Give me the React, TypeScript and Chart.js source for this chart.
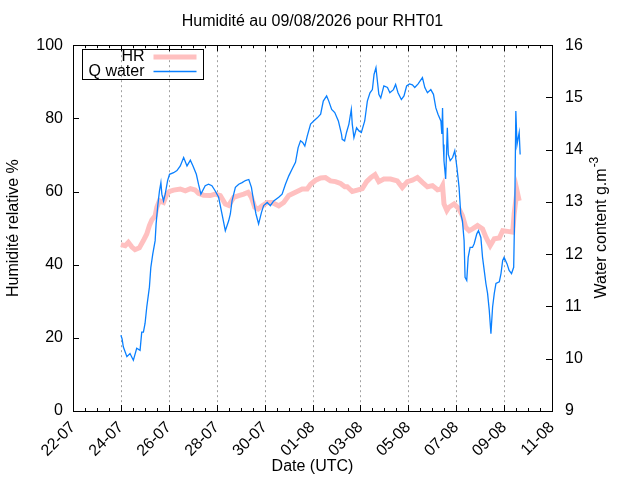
import { useEffect, useRef } from "react";
import { Chart, registerables } from "chart.js";
Chart.register(...registerables);

// x values are days counted from 22-07 00:00 UTC
const xTickLabels = ["22-07", "24-07", "26-07", "28-07", "30-07", "01-08", "03-08", "05-08", "07-08", "09-08", "11-08"];

const hrDays = [
  2.0, 2.18, 2.31, 2.46, 2.59, 2.77, 2.94, 3.08, 3.19, 3.29, 3.43, 3.5, 3.61, 3.78, 3.92, 4.03, 4.2, 4.48, 4.69, 4.9,
  5.1, 5.24, 5.45, 5.73, 5.94, 6.15, 6.36, 6.5, 6.71, 6.92, 7.13, 7.31, 7.45, 7.59, 7.73, 7.9, 8.11, 8.31, 8.59, 8.8,
  9.01, 9.29, 9.57, 9.78, 9.92, 10.13, 10.34, 10.54, 10.75, 10.96, 11.17, 11.35, 11.45, 11.66, 11.87, 12.08, 12.26,
  12.43, 12.61, 12.77, 12.98, 13.26, 13.54, 13.75, 13.96, 14.17, 14.38, 14.59, 14.8, 15.01, 15.22, 15.36, 15.43,
  15.49, 15.61, 15.7, 15.91, 16.12, 16.26, 16.4, 16.54, 16.68, 16.89, 17.1, 17.24, 17.42, 17.59, 17.8, 17.94, 18.15,
  18.36, 18.42, 18.54, 18.63,
];
const hrValues = [
  45.5, 45.2, 46.1, 44.8, 44.1, 44.6, 46.6, 48.4, 50.7, 52.2, 53.4, 55.7, 57.5, 57.0, 59.3, 60.0, 60.4, 60.7, 60.2, 60.8,
  60.4, 59.5, 59.0, 58.9, 59.3, 58.9, 56.6, 56.2, 58.4, 58.9, 59.3, 59.8, 58.4, 55.7, 55.2, 56.1, 57.0, 57.0, 56.1, 57.0,
  58.9, 59.8, 60.7, 60.7, 62.0, 63.1, 63.7, 63.8, 62.9, 62.7, 62.2, 61.3, 61.3, 60.0, 60.4, 60.8, 62.7,
  63.8, 64.6, 62.7, 63.4, 63.4, 62.9, 61.1, 62.7, 63.1, 63.8, 62.5, 61.3, 61.6, 60.5, 60.7, 61.6,
  56.6, 54.8, 55.7, 56.6, 55.2, 53.4, 50.2, 49.3, 49.8, 50.7, 49.8, 47.5, 45.2, 47.1, 47.3, 49.3, 49.1,
  48.9, 53.9, 60.2, 57.5,
];

const qDays = [
  2.0, 2.05, 2.1, 2.25, 2.38, 2.52, 2.66, 2.8, 2.87, 2.94, 3.01, 3.08, 3.19, 3.25, 3.33, 3.43, 3.47, 3.54, 3.61, 3.67,
  3.71, 3.78, 3.85, 3.95, 4.03, 4.2, 4.34, 4.48, 4.62, 4.76, 4.9, 5.01, 5.15, 5.24, 5.34, 5.52, 5.66, 5.8, 5.94, 6.08,
  6.22, 6.36, 6.5, 6.57, 6.64, 6.78, 6.92, 7.06, 7.2, 7.34, 7.45, 7.54, 7.64, 7.75, 7.87, 7.96, 8.11, 8.24, 8.38, 8.59,
  8.73, 8.87, 9.01, 9.15, 9.29, 9.4, 9.5, 9.59, 9.68, 9.78, 9.92, 10.05, 10.2, 10.34, 10.45, 10.59, 10.68, 10.8, 10.93,
  11.08, 11.21, 11.24, 11.34, 11.42, 11.52, 11.62, 11.66, 11.73, 11.84, 11.94, 12.04, 12.18, 12.29, 12.4, 12.5, 12.57,
  12.65, 12.71, 12.77, 12.85, 12.98, 13.13, 13.23, 13.38, 13.47, 13.57, 13.71, 13.82, 13.93, 14.05, 14.17, 14.27, 14.41,
  14.59, 14.69, 14.8, 14.94, 15.05, 15.15, 15.24, 15.36, 15.4, 15.43, 15.46, 15.49, 15.56, 15.63, 15.67, 15.75, 15.85,
  15.94, 16.03, 16.12, 16.19, 16.26, 16.33, 16.37, 16.44, 16.5, 16.58, 16.68, 16.75, 16.86, 16.93, 17.03, 17.1, 17.17,
  17.24, 17.31, 17.38, 17.45, 17.52, 17.59, 17.66, 17.8, 17.87, 17.94, 18.0, 18.12, 18.21, 18.31, 18.4, 18.45, 18.49,
  18.54, 18.59, 18.63, 18.67,
];
const qValues = [
  10.45, 10.38, 10.23, 10.04, 10.1, 9.97, 10.2, 10.16, 10.51, 10.51, 10.68, 10.99, 11.37, 11.75, 12.0, 12.26, 12.58,
  12.93, 13.21, 13.37, 13.15, 13.02, 13.15, 13.41, 13.53, 13.56, 13.6, 13.69, 13.85, 13.69, 13.8, 13.69, 13.53, 13.34,
  13.15, 13.31, 13.34, 13.31, 13.21, 13.09, 12.77, 12.45, 12.64, 12.77, 13.02, 13.28, 13.34, 13.37, 13.41, 13.43, 13.28,
  13.02, 12.77, 12.58, 12.8, 12.93, 12.99, 12.93, 13.02, 13.09, 13.15, 13.34, 13.5, 13.63, 13.76, 14.04, 14.17, 14.14,
  14.07, 14.26, 14.49, 14.55, 14.61, 14.68, 14.93, 15.03, 14.93, 14.77, 14.71, 14.55, 14.3, 14.2, 14.17, 14.33, 14.49,
  14.77, 14.49, 14.23, 14.42, 14.36, 14.33, 14.55, 14.93, 15.09, 15.15, 15.44, 15.57, 15.31, 15.06, 14.99, 15.22, 15.19,
  15.09, 15.15, 15.25, 15.09, 14.96, 15.03, 15.22, 15.26, 15.24, 15.19, 15.26, 15.38, 15.19, 15.09, 15.15, 15.06, 14.8,
  14.68, 14.55, 14.3, 14.8, 14.1, 13.79, 13.44, 14.42, 13.91, 13.79, 13.85, 13.98, 13.66, 13.28, 12.77, 12.64, 12.26,
  11.56, 11.5, 11.94, 12.13, 12.13, 12.2, 12.39, 12.45, 12.32, 11.94, 11.69, 11.44, 11.25, 10.93, 10.48, 10.99, 11.25,
  11.44, 11.47, 11.63, 11.88, 11.94, 11.82, 11.69, 11.63, 11.75, 13.02, 14.74, 14.1, 14.23, 14.33, 13.91,
];

const FONT = "'Liberation Sans', Arial, sans-serif";

// gnuplot-like frame: dotted grid, inward ticks, border, key box, right axis title
const framePlugin = {
  id: "frame",
  beforeDatasetsDraw(chart: any) {
    const { ctx, chartArea: a, scales } = chart;
    ctx.save();
    ctx.strokeStyle = "#a0a0a0";
    ctx.lineWidth = 1;
    ctx.setLineDash([2, 3]);
    for (let v = 2; v < 20; v += 2) {
      const px = Math.round(scales.x.getPixelForValue(v)) + 0.5;
      ctx.beginPath();
      ctx.moveTo(px, a.top);
      ctx.lineTo(px, a.bottom);
      ctx.stroke();
    }
    ctx.restore();
  },
  afterDraw(chart: any) {
    const { ctx, chartArea: a, scales } = chart;
    ctx.save();
    ctx.strokeStyle = "#000";
    ctx.lineWidth = 1;
    ctx.beginPath();
    for (let v = 0; v <= 20; v += 0.5) {
      const px = Math.round(scales.x.getPixelForValue(v)) + 0.5;
      const len = v % 2 === 0 ? 6 : 3;
      ctx.moveTo(px, a.bottom);
      ctx.lineTo(px, a.bottom - len);
      ctx.moveTo(px, a.top);
      ctx.lineTo(px, a.top + len);
    }
    for (let v = 0; v <= 100; v += 20) {
      const py = Math.round(scales.y.getPixelForValue(v)) + 0.5;
      ctx.moveTo(a.left, py);
      ctx.lineTo(a.left + 6, py);
    }
    for (let v = 9; v <= 16; v += 1) {
      const py = Math.round(scales.y1.getPixelForValue(v)) + 0.5;
      ctx.moveTo(a.right, py);
      ctx.lineTo(a.right - 6, py);
    }
    ctx.stroke();
    ctx.strokeRect(Math.round(a.left) + 0.5, Math.round(a.top) + 0.5, Math.round(a.right - a.left), Math.round(a.bottom - a.top));

    // key
    const x0 = Math.round(a.left) + 9.5;
    const y0 = Math.round(a.top) + 4.5;
    ctx.strokeRect(x0, y0, 121, 30);
    ctx.font = `16px ${FONT}`;
    ctx.textAlign = "right";
    ctx.textBaseline = "middle";
    ctx.fillStyle = "#000";
    chart.data.datasets.forEach((ds: any, i: number) => {
      const y = y0 + 7.5 + i * 14.5;
      ctx.fillText(ds.label, x0 + 62, y);
      ctx.strokeStyle = ds.borderColor;
      ctx.lineWidth = ds.borderWidth;
      ctx.beginPath();
      ctx.moveTo(x0 + 71, y);
      ctx.lineTo(x0 + 114, y);
      ctx.stroke();
    });

    // right axis title, read bottom to top like gnuplot
    const main = "Water content g.m";
    const sup = "-3";
    ctx.font = `16px ${FONT}`;
    const w1 = ctx.measureText(main).width;
    ctx.font = `12px ${FONT}`;
    const w2 = ctx.measureText(sup).width;
    ctx.translate(a.right + 50, (a.top + a.bottom) / 2);
    ctx.rotate(-Math.PI / 2);
    ctx.textAlign = "left";
    ctx.textBaseline = "middle";
    ctx.fillStyle = "#000";
    const start = -(w1 + w2) / 2;
    ctx.font = `16px ${FONT}`;
    ctx.fillText(main, start, 0);
    ctx.font = `12px ${FONT}`;
    ctx.fillText(sup, start + w1 + 1, -7);
    ctx.restore();
  },
};

const App = () => {
  const chartRef = useRef<HTMLCanvasElement | null>(null);

  useEffect(() => {
    if (!chartRef.current) return;
    const ctx = chartRef.current.getContext("2d");
    if (!ctx) return;

    Chart.defaults.font.family = FONT;
    Chart.defaults.font.size = 16;
    Chart.defaults.color = "#000";

    const chart = new Chart(ctx, {
      type: "line",
      data: {
        datasets: [
          {
            label: "HR",
            data: hrDays.map((d, i) => ({ x: d, y: hrValues[i] })),
            borderColor: "#ffc0c0",
            borderWidth: 5,
            pointRadius: 0,
            yAxisID: "y",
            order: 2,
          },
          {
            label: "Q water",
            data: qDays.map((d, i) => ({ x: d, y: qValues[i] })),
            borderColor: "#0a80ff",
            borderWidth: 1.3,
            pointRadius: 0,
            yAxisID: "y1",
            order: 1,
          },
        ],
      },
      options: {
        animation: false,
        responsive: true,
        maintainAspectRatio: false,
        events: [],
        layout: { padding: 0 },
        plugins: {
          legend: { display: false },
          tooltip: { enabled: false },
          title: {
            display: true,
            text: "Humidité au 09/08/2026 pour RHT01",
            fullSize: false,
            font: { size: 16, weight: "normal" },
            color: "#000",
            padding: { top: 12, bottom: 14 },
          },
        },
        scales: {
          x: {
            type: "linear",
            min: 0,
            max: 20,
            grid: { display: false, drawTicks: false },
            border: { display: false },
            ticks: {
              stepSize: 2,
              autoSkip: false,
              minRotation: 45,
              maxRotation: 45,
              padding: 7,
              callback: (_v: any, index: number) => xTickLabels[index],
            },
            title: { display: true, text: "Date (UTC)", padding: { top: 0, bottom: 4 } },
            afterFit: (scale: any) => {
              scale.height = 69;
            },
          },
          y: {
            position: "left",
            min: 0,
            max: 100,
            grid: { display: false, drawTicks: false },
            border: { display: false },
            ticks: { stepSize: 20, padding: 10 },
            title: { display: true, text: "Humidité relative %", padding: { top: 4, bottom: 0 } },
            afterFit: (scale: any) => {
              scale.width = 73;
            },
          },
          y1: {
            position: "right",
            min: 9,
            max: 16,
            grid: { display: false, drawTicks: false },
            border: { display: false },
            ticks: { stepSize: 1, padding: 13 },
            afterFit: (scale: any) => {
              scale.width = 88;
            },
          },
        },
      },
      plugins: [framePlugin],
    });

    return () => chart.destroy();
  }, []);

  return (
    <div style={{ position: "absolute", left: 0, top: 0, width: "640px", height: "480px", background: "#fff" }}>
      <canvas ref={chartRef}></canvas>
    </div>
  );
};

export default App;
